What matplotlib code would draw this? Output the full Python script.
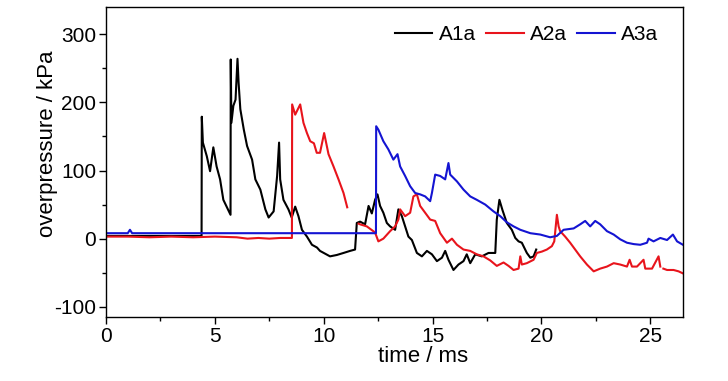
import numpy as np
import matplotlib.pyplot as plt
from matplotlib.ticker import MultipleLocator

### données (t en ms, p en kPa)

t_a1 = [0, 4.39, 4.40, 4.45, 4.63, 4.78, 4.93, 5.08, 5.24, 5.39,
        5.54, 5.72, 5.73, 5.76, 5.85, 5.95, 6.04, 6.09, 6.17, 6.33,
        6.48, 6.71, 6.86, 7.09, 7.32, 7.47, 7.70, 7.86, 7.95, 8.00,
        8.15, 8.38, 8.53, 8.69, 8.84, 9.00, 9.23, 9.46, 9.69, 9.83,
        10.29, 10.60, 10.91, 11.21, 11.44, 11.52, 11.67, 11.90, 12.06, 12.21,
        12.36, 12.47, 12.59, 12.74, 12.90, 13.05, 13.28, 13.43, 13.59, 13.74,
        13.89, 14.05, 14.28, 14.51, 14.74, 14.97, 15.20, 15.43, 15.58, 15.73,
        15.96, 16.19, 16.42, 16.57, 16.73, 16.96, 17.26, 17.57, 17.88, 17.95,
        18.07, 18.21, 18.41, 18.64, 18.80, 18.95, 19.10, 19.33, 19.49, 19.64,
        19.76]
p_a1 = [4, 4, 179, 141, 121, 99, 134, 106, 87, 57,
        47, 35, 263, 170, 195, 204, 264, 229, 190, 160,
        136, 116, 87, 72, 43, 31, 40, 92, 141, 87,
        57, 43, 31, 47, 33, 13, 3, -9, -13, -18,
        -26, -24, -21, -18, -16, 23, 25, 21, 48, 37,
        57, 65, 48, 38, 23, 18, 13, 43, 33, 18,
        3, -2, -21, -26, -18, -23, -33, -28, -18, -31,
        -46, -38, -33, -23, -36, -23, -26, -21, -21, 28,
        57, 42, 23, 13, 1, -4, -6, -21, -28, -26,
        -16]

t_a2 = [0, 1.0, 2.0, 3.0, 4.0, 5.0, 6.0, 6.5, 7.0, 7.5,
        8.0, 8.54, 8.55, 8.69, 8.92, 9.07, 9.23, 9.38, 9.55, 9.68,
        9.83, 10.02, 10.22, 10.45, 10.68, 10.91, 11.08, 11.09, 11.60, 11.67,
        11.98, 12.36, 12.51, 12.74, 13.05, 13.28, 13.43, 13.51, 13.74, 13.97,
        14.12, 14.28, 14.43, 14.66, 14.89, 15.12, 15.35, 15.66, 15.89, 16.12,
        16.42, 16.73, 17.03, 17.34, 17.65, 17.95, 18.26, 18.49, 18.72, 18.95,
        19.03, 19.10, 19.33, 19.64, 19.79, 20.02, 20.25, 20.48, 20.59, 20.71,
        20.79, 20.86, 21.09, 21.32, 21.55, 21.78, 22.09, 22.40, 22.70, 23.01,
        23.32, 23.62, 23.93, 24.05, 24.16, 24.39, 24.69, 24.77, 25.08, 25.38,
        25.46, 25.55, 25.60, 25.77, 26.07, 26.30, 26.50]
p_a2 = [3, 3, 2, 3, 2, 3, 2, 0, 1, 0,
        1, 1, 197, 182, 197, 170, 155, 143, 140, 126,
        126, 155, 124, 106, 87, 67, 46, np.nan, 22, 21,
        18, 9, -4, 0, 11, 18, 28, 43, 33, 38,
        62, 65, 48, 38, 28, 26, 8, -6, 0, -9,
        -16, -18, -23, -26, -32, -40, -35, -40, -46, -44,
        -26, -38, -36, -31, -21, -19, -16, -11, -4, 35,
        18, 11, 3, -6, -16, -26, -38, -48, -44, -41,
        -36, -38, -41, -31, -41, -41, -31, -44, -44, -26,
        -41, np.nan, -44, -46, -46, -48, -51]

t_a3 = [0, 1.0, 1.1, 1.2, 3.0, 5.0, 7.0, 9.0, 11.0, 12.40,
        12.41, 12.51, 12.74, 12.97, 13.20, 13.39, 13.51, 13.74, 13.97, 14.20,
        14.43, 14.66, 14.89, 14.97, 15.12, 15.35, 15.58, 15.73, 15.81, 16.12,
        16.42, 16.73, 17.03, 17.42, 17.80, 18.11, 18.41, 18.72, 19.03, 19.49,
        19.95, 20.40, 20.71, 21.02, 21.48, 21.78, 22.01, 22.24, 22.47, 22.70,
        23.01, 23.32, 23.62, 23.93, 24.24, 24.54, 24.85, 24.92, 25.15, 25.46,
        25.77, 26.04, 26.23, 26.50]
p_a3 = [8, 8, 13, 8, 8, 8, 8, 8, 8, 8,
        165, 160, 143, 131, 116, 124, 106, 92, 77, 67,
        65, 62, 55, 67, 94, 92, 87, 111, 94, 84,
        72, 62, 57, 50, 40, 33, 24, 18, 13, 8,
        6, 2, 4, 13, 15, 21, 26, 18, 26, 21,
        11, 6, -1, -6, -8, -9, -6, 0, -4, 1,
        -2, 6, -4, -9]

### tracé

plt.rcParams['font.family'] = ['Liberation Sans', 'DejaVu Sans']
plt.rcParams['axes.unicode_minus'] = False

fig = plt.figure(figsize=(7.28, 3.81), dpi=100)
ax = fig.add_axes([0.1456, 0.168, 0.7925, 0.8136])

ax.plot(t_a1, p_a1, color='black', lw=1.5, label='A1a')
ax.plot(t_a2, p_a2, color='#e8141c', lw=1.5, label='A2a')
ax.plot(t_a3, p_a3, color='#1414d2', lw=1.5, label='A3a')

ax.set_xlim(0, 26.5)
ax.set_ylim(-115, 340)
ax.xaxis.set_major_locator(MultipleLocator(5))
ax.xaxis.set_minor_locator(MultipleLocator(2.5))
ax.yaxis.set_major_locator(MultipleLocator(100))
ax.yaxis.set_minor_locator(MultipleLocator(50))
ax.tick_params(which='both', direction='out', width=1, labelsize=15, top=False, right=False)
ax.tick_params(which='major', length=5, pad=2)
ax.tick_params(which='minor', length=3)
for s in ax.spines.values():
    s.set_linewidth(1)

ax.set_xlabel('time / ms', fontsize=16)
ax.set_ylabel('overpressure / kPa', fontsize=16)
ax.xaxis.set_label_coords(0.55, -0.095)
ax.yaxis.set_label_coords(-0.083, 0.56)

ax.legend(loc='center right', bbox_to_anchor=(0.957, 0.91), ncol=3, frameon=False,
          fontsize=15, handlelength=1.8, handletextpad=0.3, columnspacing=0.5,
          borderaxespad=0, borderpad=0)

fig.savefig('out.png', dpi=100)
